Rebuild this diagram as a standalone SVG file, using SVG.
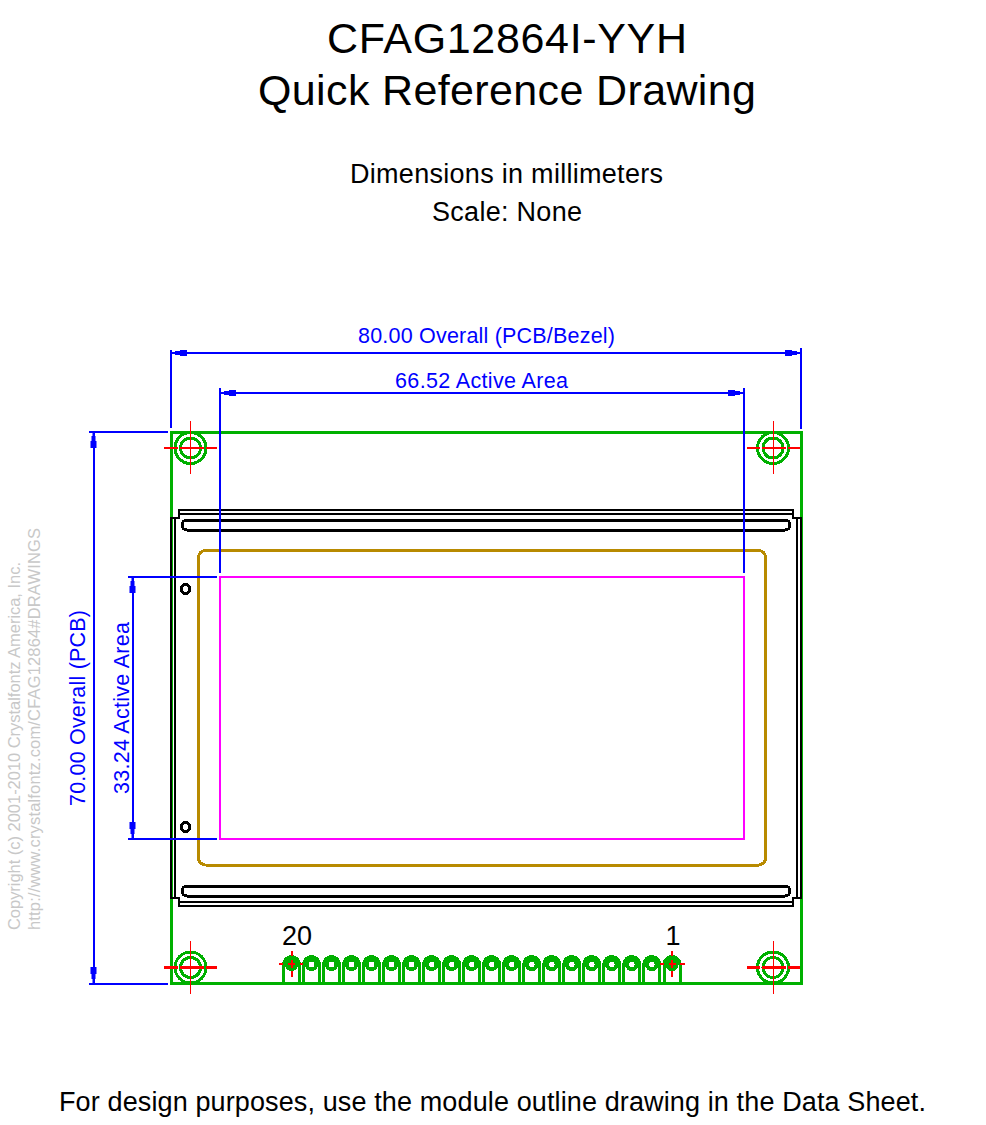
<svg xmlns="http://www.w3.org/2000/svg" width="986" height="1125" viewBox="0 0 986 1125">
<style>
text{font-family:"Liberation Sans",Arial,sans-serif}
.t{fill:#000;text-anchor:middle}
.d{fill:#0000ff;font-size:21.500px;text-anchor:middle}
.c{fill:#c8c8c8;font-size:16.500px}
.b{fill:none;stroke:#0000ff;stroke-width:2;shape-rendering:crispEdges}
.g{fill:none;stroke:#00b000;stroke-width:3;shape-rendering:crispEdges}
.k{fill:none;stroke:#000;stroke-width:2.500;shape-rendering:crispEdges}
.s{stroke-width:3}
.r{fill:none;stroke:#ff0000;shape-rendering:crispEdges}
</style>
<defs>
<marker id="ah" viewBox="0 0 16 8" refX="16" refY="4" markerWidth="16" markerHeight="8" markerUnits="userSpaceOnUse" orient="auto-start-reverse"><path d="M0 1H7V2H12V3H16V5H12V6H7V7H0Z" fill="#0000ff"/></marker>
<g id="hole"><circle r="15.500" class="g"/><circle r="10" class="g"/><path class="r" stroke-width="2.500" d="M-26.500 0H-13M-11 0H13M15 0H26.500"/><path class="r" stroke-width="1" d="M0 -27V26"/></g>
<g id="pin"><path class="g" d="M-8 19.500V0A8 8 0 0 1 8 0V19.500"/><circle r="4.800" fill="none" stroke="#00b000" stroke-width="3.800" shape-rendering="crispEdges"/></g>
</defs>
<rect width="986" height="1125" fill="#fff"/>
<g id="title">
<text class="t" x="507" y="52.500" font-size="43" textLength="360">CFAG12864I-YYH</text>
<text class="t" x="507" y="105" font-size="43" textLength="498">Quick Reference Drawing</text>
<text class="t" x="506.500" y="183" font-size="27" textLength="313">Dimensions in millimeters</text>
<text class="t" x="507" y="220.500" font-size="27" textLength="150">Scale: None</text>
<text class="t" x="492.500" y="1111" font-size="27" textLength="867">For design purposes, use the module outline drawing in the Data Sheet.</text>
</g>
<g id="copyright">
<text class="c" transform="translate(20 930) rotate(-90)" textLength="368">Copyright (c) 2001-2010 Crystalfontz America, Inc.</text>
<text class="c" transform="translate(40 930) rotate(-90)" textLength="402">http://www.crystalfontz.com/CFAG12864#DRAWINGS</text>
</g>
<g id="pcb"><rect class="g" x="171" y="432.500" width="630.500" height="551"/></g>
<g id="bezel">
<path class="k" d="M171 518H179V510H793V518H801V898H793V906H179V898H171Z"/>
<path class="k" d="M175 898V518M179 514H793M797 518V898M793 902H179"/>
<rect class="k s" x="182" y="520" width="608" height="10" rx="5"/>
<rect class="k s" x="182" y="886" width="608" height="10" rx="5"/>
<circle class="k s" cx="185.500" cy="589" r="4.500"/>
<circle class="k s" cx="185.500" cy="827" r="4.500"/>
</g>
<g id="viewing-area"><rect fill="none" stroke="#b88a00" stroke-width="3" shape-rendering="crispEdges" x="198.500" y="550.500" width="567" height="314.500" rx="7"/></g>
<g id="active-area"><rect fill="none" stroke="#ff00ff" stroke-width="2" shape-rendering="crispEdges" x="220" y="577" width="524" height="261.500"/></g>
<g id="mounting-holes">
<use href="#hole" x="190.500" y="448"/>
<use href="#hole" x="773" y="448"/>
<use href="#hole" x="190.500" y="967.500"/>
<use href="#hole" x="773" y="967.500"/>
</g>
<g id="pins">
<use href="#pin" x="291.500" y="964.500"/><use href="#pin" x="311.500" y="964.500"/><use href="#pin" x="331.500" y="964.500"/><use href="#pin" x="351.500" y="964.500"/><use href="#pin" x="371.500" y="964.500"/><use href="#pin" x="391.500" y="964.500"/><use href="#pin" x="411.500" y="964.500"/><use href="#pin" x="431.600" y="964.500"/><use href="#pin" x="451.600" y="964.500"/><use href="#pin" x="471.600" y="964.500"/><use href="#pin" x="491.600" y="964.500"/><use href="#pin" x="511.600" y="964.500"/><use href="#pin" x="531.700" y="964.500"/><use href="#pin" x="551.700" y="964.500"/><use href="#pin" x="571.700" y="964.500"/><use href="#pin" x="591.700" y="964.500"/><use href="#pin" x="611.800" y="964.500"/><use href="#pin" x="631.800" y="964.500"/><use href="#pin" x="651.800" y="964.500"/><use href="#pin" x="672" y="964.500"/>
<circle cx="291.500" cy="964" r="5" fill="#00b000"/><circle cx="672" cy="964" r="5" fill="#00b000"/>
<path class="r" stroke-width="2.500" d="M279 964H283M300 964H303M660 964H664M680 964H685M288 964H295M668.500 964H675.500"/>
<path class="r" stroke-width="2" d="M291.500 951V956M291.500 960V968M291.500 971V977M672 951V956M672 960V968M672 971V977"/>
<text x="297" y="944.500" font-size="27" class="t" textLength="30">20</text>
<text x="673" y="945" font-size="27" class="t">1</text>
</g>
<g id="connectors">
<path class="b" d="M171 350V428M801 348V429M220 388V573M744 388V573M89 432H168M89 983.500H168M128 577H217M128 838.500H217"/>
<path class="b" marker-start="url(#ah)" marker-end="url(#ah)" d="M171 353H801"/>
<path class="b" marker-start="url(#ah)" marker-end="url(#ah)" d="M220 393H744"/>
<path class="b" marker-start="url(#ah)" marker-end="url(#ah)" d="M93.500 432V983"/>
<path class="b" marker-start="url(#ah)" marker-end="url(#ah)" d="M132.500 577V838"/>
</g>
<g id="dimensions">
<text class="d" x="486.500" y="343" textLength="257">80.00 Overall (PCB/Bezel)</text>
<text class="d" x="481.500" y="387.500" textLength="173">66.52 Active Area</text>
<text class="d" transform="translate(85 708) rotate(-90)" textLength="196">70.00 Overall (PCB)</text>
<text class="d" transform="translate(129 708) rotate(-90)" textLength="172">33.24 Active Area</text>
</g>
</svg>
